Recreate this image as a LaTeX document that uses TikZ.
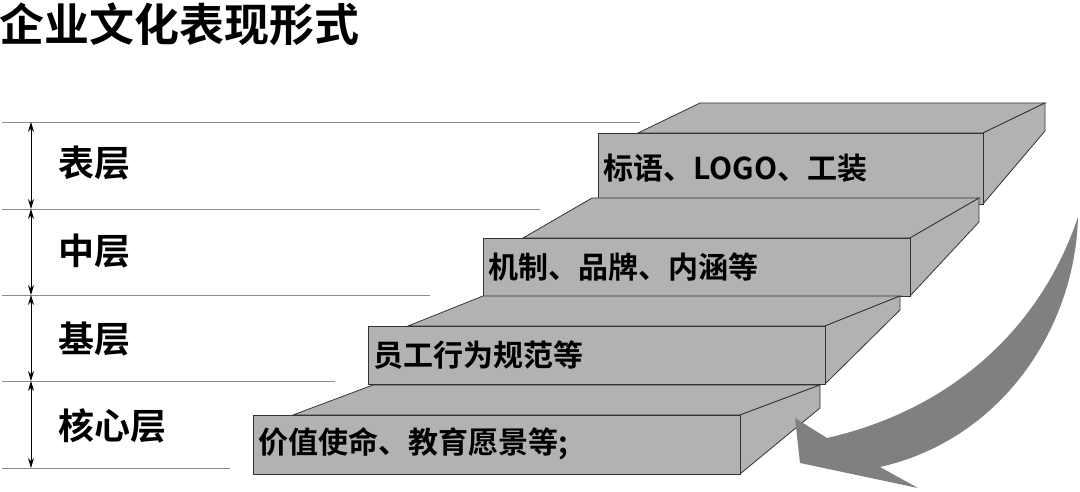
\documentclass[tikz,border=0pt]{standalone}
\usepackage{fontspec}
\usetikzlibrary{arrows.meta}
\setmainfont{Noto Sans CJK SC}
\newfontfamily\cjkbold{Noto Sans CJK SC Bold}
\tikzset{
  face/.style={draw=black!80,fill=black!30,line width=.8pt},
  levelline/.style={draw=black!45,line width=.9pt},
  levelarrow/.style={{Stealth[length=10pt,width=6pt]}-{Stealth[length=10pt,width=6pt]},draw=black,line width=.9pt},
  levellabel/.style={font=\cjkbold\fontsize{36}{38}\selectfont,anchor=west},
  steptext/.style={font=\cjkbold\fontsize{30}{32}\selectfont,anchor=west},
}
% #1 left x, #2 right x, #3 top y, #4 bottom y, #5 back dx, #6 back dy, #7 right depth
\newcommand{\slab}[7]{%
  \fill[face] (#1+40,#3) -- (#1+40+#5,#3+#6) -- (#2+#5,#3+#6) -- (#2,#3) -- cycle;
  \fill[face] (#2,#3) -- (#2+#5,#3+#6) -- (#2+#5,#3+#6+#7) -- (#2,#4) -- cycle;
  \fill[face] (#1,#3) rectangle (#2,#4);
}
\begin{document}
\begin{tikzpicture}[x=1pt,y=-1pt]
  \useasboundingbox (0,0) rectangle (1080,492);

  \node[font=\cjkbold\fontsize{45}{47}\selectfont,anchor=west] (title) at (-4,24) {企业文化表现形式};

  % level lines
  \draw[levelline] (2,122) -- (640,122);
  \draw[levelline] (2,209) -- (540,209);
  \draw[levelline] (2,295) -- (430,295);
  \draw[levelline] (2,381) -- (335,381);
  \draw[levelline] (2,468) -- (230,468);

  \coordinate (l0) at (31,122);
  \coordinate (l1) at (31,209);
  \coordinate (l2) at (31,295);
  \coordinate (l3) at (31,381);
  \coordinate (l4) at (31,468);
  \draw[levelarrow] (l0) -- (l1);
  \draw[levelarrow] (l1) -- (l2);
  \draw[levelarrow] (l2) -- (l3);
  \draw[levelarrow] (l3) -- (l4);

  \node[levellabel] (surface) at (55,163) {表层};
  \node[levellabel] (middle) at (55,251) {中层};
  \node[levellabel] (base) at (55,339) {基层};
  \node[levellabel] (core) at (55,426) {核心层};

  % slabs, back to front
  \slab{598}{983}{133}{204}{62}{-30}{28}
  \slab{483}{910}{238}{296}{69}{-40}{24}
  \slab{368}{825}{326}{384}{75}{-30}{14}
  \slab{253}{740}{415}{474}{80}{-30}{23}

  \node[steptext] (s1) at (600,168) {标语、LOGO、工装};
  \node[steptext] (s2) at (485,267) {机制、品牌、内涵等};
  \node[steptext] (s3) at (370,355) {员工行为规范等};
  \node[steptext] (s4) at (255,444) {价值使命、教育愿景等;};

  % big curved arrow
  \fill[black!50] (1078,217) .. controls (1075,330) and (1000,440) .. (880,467)
    -- (918,488) -- (800,463) -- (795,418) -- (827,438)
    .. controls (950,410) and (1040,330) .. (1078,217) -- cycle;
\end{tikzpicture}
\end{document}
